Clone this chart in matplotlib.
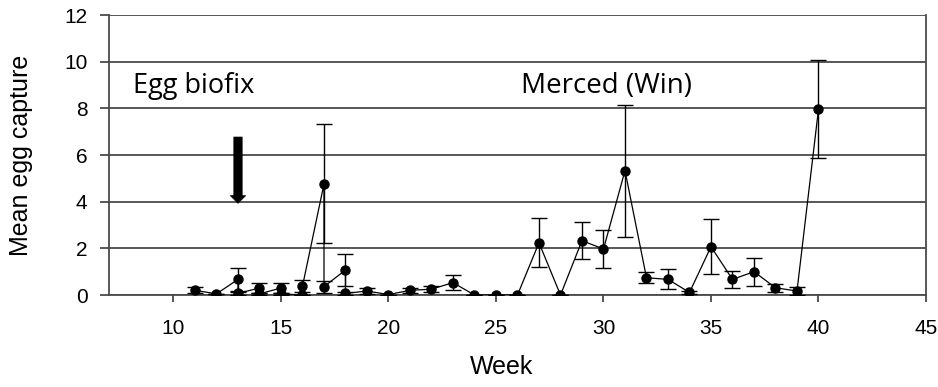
import numpy as np
import matplotlib.pyplot as plt

# weekly means (some weeks have two trap readings, kept in recorded order)
weeks = [11, 12, 13, 13, 14, 14, 15, 15, 16, 16, 17, 17, 18, 18, 19, 20, 21, 22, 23,
         24, 25, 26, 27, 28, 29, 30, 31, 32, 33, 34, 35, 36, 37, 38, 39, 40]
mean_eggs = [0.2, 0.05, 0.67, 0.07, 0.3, 0.05, 0.3, 0.05, 0.0, 0.38, 4.76, 0.36, 1.07, 0.07,
             0.17, 0.02, 0.2, 0.25, 0.53, 0.0, 0.0, 0.0, 2.24, 0.0, 2.33, 1.97, 5.33,
             0.74, 0.67, 0.11, 2.07, 0.67, 1.0, 0.31, 0.17, 7.96]
sem_eggs = [0.13, 0.0, 0.5, 0.05, 0.23, 0.05, 0.23, 0.05, 0.0, 0.26, 2.55, 0.26, 0.67, 0.08,
            0.13, 0.0, 0.1, 0.12, 0.33, 0.0, 0.0, 0.0, 1.05, 0.0, 0.78, 0.8, 2.83,
            0.23, 0.43, 0.05, 1.17, 0.37, 0.6, 0.18, 0.16, 2.1]

biofix_week = 13
biofix_top, biofix_tip = 6.77, 3.93

grid_col = '#4a4a4a'

fig = plt.figure(figsize=(9.38, 3.87), dpi=100)
ax = fig.add_axes([0.1162, 0.2377, 0.8710, 0.7235])

ax.errorbar(weeks, mean_eggs, yerr=sem_eggs, fmt='-o', color='black', lw=0.9,
            ms=6.5, elinewidth=1.0, ecolor='black', capsize=5.5, capthick=1.0, zorder=3)

ax.set_xlim(7, 45)
ax.set_ylim(0, 12)
ax.set_xticks(np.arange(10, 46, 5))
ax.set_yticks(np.arange(0, 13, 2))
ax.grid(axis='y', color=grid_col, lw=1.3)
ax.set_axisbelow(True)

ax.spines['top'].set_visible(False)
for s in ['left', 'right', 'bottom']:
    ax.spines[s].set_color(grid_col)
    ax.spines[s].set_linewidth(1.3)

ax.tick_params(axis='y', length=6.5, width=1.3, color=grid_col, labelsize=15, pad=9)
ax.tick_params(axis='x', length=5, width=1.3, color=grid_col, labelsize=15, pad=12)
for lab in ax.get_xticklabels() + ax.get_yticklabels():
    lab.set_fontfamily('Liberation Sans')

ax.set_xlabel('Week', fontsize=18, family='Liberation Sans')
ax.set_ylabel('Mean egg capture', fontsize=18, family='Liberation Sans')
ax.xaxis.set_label_coords(0.481, -0.215)
ax.yaxis.set_label_coords(-0.093, 0.5)

# biofix arrow
ax.annotate('', xy=(biofix_week, biofix_tip), xytext=(biofix_week, biofix_top),
            arrowprops=dict(arrowstyle='simple,head_width=1.1,head_length=0.55,tail_width=0.6',
                            fc='black', ec='black', lw=0.5, shrinkA=0, shrinkB=0))

ax.text(8.1, 8.95, 'Egg biofix', fontsize=19.5, family='Open Sans', va='center', ha='left')
ax.text(26.15, 8.95, 'Merced (Win)', fontsize=20, family='Open Sans', va='center', ha='left')

fig.savefig('out.png', dpi=100)
